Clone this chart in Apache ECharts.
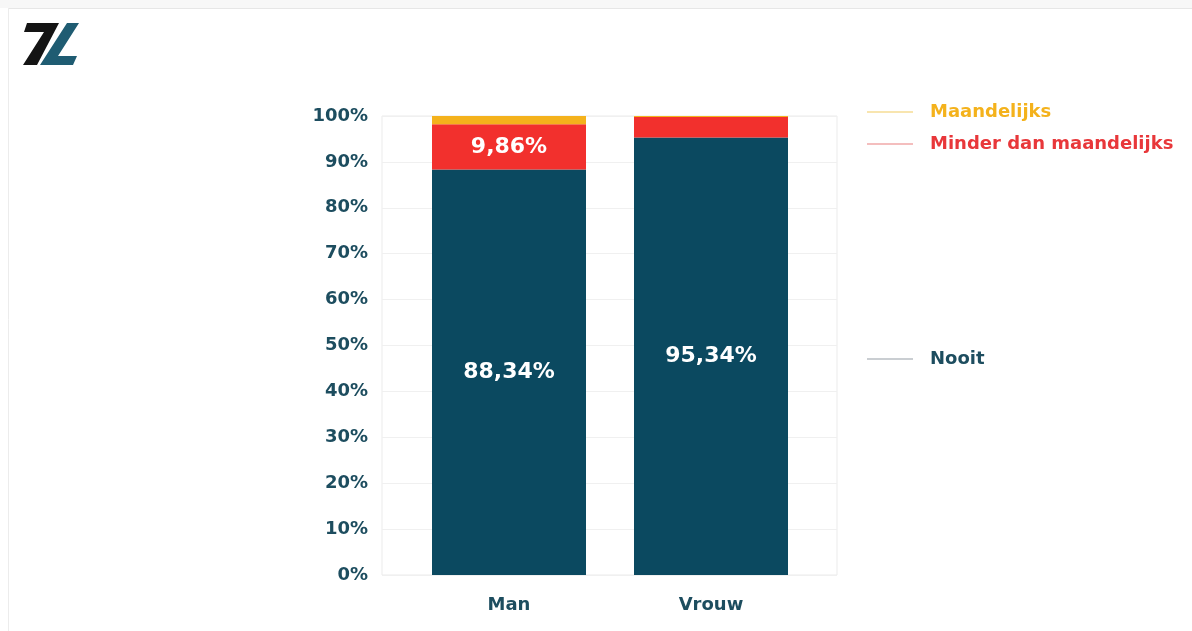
<!DOCTYPE html>
<html>
<head>
<meta charset="utf-8">
<script src="https://cdn.jsdelivr.net/npm/echarts@6/dist/echarts.min.js"></script>
<style>
  html, body { margin: 0; padding: 0; background: #ffffff; }
  #chart { width: 1192px; height: 631px; }
</style>
</head>
<body>
<div id="chart"></div>
<script>
// Frequency shares per gender (percent)
const categories = ['Man', 'Vrouw'];
const nooit = [88.34, 95.34];
const minderDanMaandelijks = [9.86, 4.46];
const maandelijks = [1.80, 0.20];
const yTicks = [0, 10, 20, 30, 40, 50, 60, 70, 80, 90, 100];

const FONT = 'DejaVu Sans';
const TEAL = '#0b4960';
const RED = '#f2302d';
const YELLOW = '#f4b21c';
const AXIS_TEXT = '#1d4d5f';

const pct = v => v.toFixed(2).replace('.', ',') + '%';

function legendFor(name, lineColor, textColor, top) {
  return {
    show: true,
    selectedMode: false,
    left: 862,
    top: top,
    orient: 'vertical',
    icon: 'rect',
    itemWidth: 46,
    itemHeight: 1.5,
    data: [{ name: name, itemStyle: { color: lineColor } }],
    textStyle: {
      color: textColor,
      fontFamily: FONT,
      fontWeight: 'bold',
      fontSize: 18,
      padding: [0, 0, 0, 12]
    }
  };
}

const dataLabel = {
  show: true,
  position: 'inside',
  color: '#ffffff',
  fontFamily: FONT,
  fontWeight: 'bold',
  fontSize: 22
};

const chart = echarts.init(document.getElementById('chart'), null, { renderer: 'canvas' });

chart.setOption({
  backgroundColor: '#ffffff',
  animation: false,
  grid: [
    // plot frame with percentage axis and gridlines
    {
      left: 382, right: 355, top: 116, bottom: 56,
      show: true, borderColor: '#ebebeb', borderWidth: 1, backgroundColor: 'transparent'
    },
    // bar band, inset within the frame
    { left: 408, right: 380, top: 116, bottom: 56 }
  ],
  legend: [
    legendFor('Maandelijks', '#f6dc94', YELLOW, 98),
    legendFor('Minder dan maandelijks', '#f0a9a9', '#e8373a', 130),
    legendFor('Nooit', '#b8bec3', AXIS_TEXT, 345)
  ],
  xAxis: [
    { type: 'value', gridIndex: 0, min: 0, max: 1, show: false },
    {
      type: 'category',
      gridIndex: 1,
      data: categories,
      boundaryGap: true,
      axisLine: { show: false },
      axisTick: { show: false },
      splitLine: { show: false },
      axisLabel: {
        color: AXIS_TEXT,
        fontFamily: FONT,
        fontWeight: 'bold',
        fontSize: 18,
        margin: 21
      }
    }
  ],
  yAxis: [
    {
      type: 'value',
      gridIndex: 0,
      min: 0,
      max: 100,
      interval: 10,
      axisLine: { show: false },
      axisTick: { show: false },
      splitLine: { show: true, lineStyle: { color: '#f0f0f0', width: 1 } },
      axisLabel: {
        customValues: yTicks,
        formatter: v => v + '%',
        color: AXIS_TEXT,
        fontFamily: FONT,
        fontWeight: 'bold',
        fontSize: 18,
        margin: 14,
        padding: [6, 0, 0, 0]
      }
    },
    { type: 'value', gridIndex: 1, min: 0, max: 100, show: false }
  ],
  series: [
    {
      name: 'Nooit',
      type: 'bar',
      xAxisIndex: 1,
      yAxisIndex: 1,
      stack: 'total',
      barWidth: 154,
      data: nooit,
      itemStyle: { color: TEAL },
      label: Object.assign({}, dataLabel, { formatter: p => pct(p.value) })
    },
    {
      name: 'Minder dan maandelijks',
      type: 'bar',
      xAxisIndex: 1,
      yAxisIndex: 1,
      stack: 'total',
      barWidth: 154,
      data: minderDanMaandelijks,
      itemStyle: { color: RED },
      label: Object.assign({}, dataLabel, { formatter: p => (p.value >= 5 ? pct(p.value) : '') })
    },
    {
      name: 'Maandelijks',
      type: 'bar',
      xAxisIndex: 1,
      yAxisIndex: 1,
      stack: 'total',
      barWidth: 154,
      data: maandelijks,
      itemStyle: { color: YELLOW },
      label: { show: false }
    }
  ],
  graphic: [
    // page frame
    { type: 'rect', shape: { x: 0, y: 0, width: 1192, height: 8 }, style: { fill: '#f7f7f7' }, silent: true },
    { type: 'line', shape: { x1: 8, y1: 8.5, x2: 1192, y2: 8.5 }, style: { stroke: '#e6e6e6', lineWidth: 1 }, silent: true },
    { type: 'line', shape: { x1: 8.5, y1: 8, x2: 8.5, y2: 631 }, style: { stroke: '#ececec', lineWidth: 1 }, silent: true },
    // logo: "7"
    {
      type: 'polygon',
      shape: { points: [[27, 23], [59, 23], [37, 65], [23, 65], [44, 32], [24, 32]] },
      style: { fill: '#141414' },
      silent: true
    },
    // logo: "L"
    {
      type: 'polygon',
      shape: { points: [[67, 23], [79, 23], [58, 56], [77, 56], [73, 65], [40, 65]] },
      style: { fill: '#1f5c72' },
      silent: true
    }
  ]
});
</script>
</body>
</html>
